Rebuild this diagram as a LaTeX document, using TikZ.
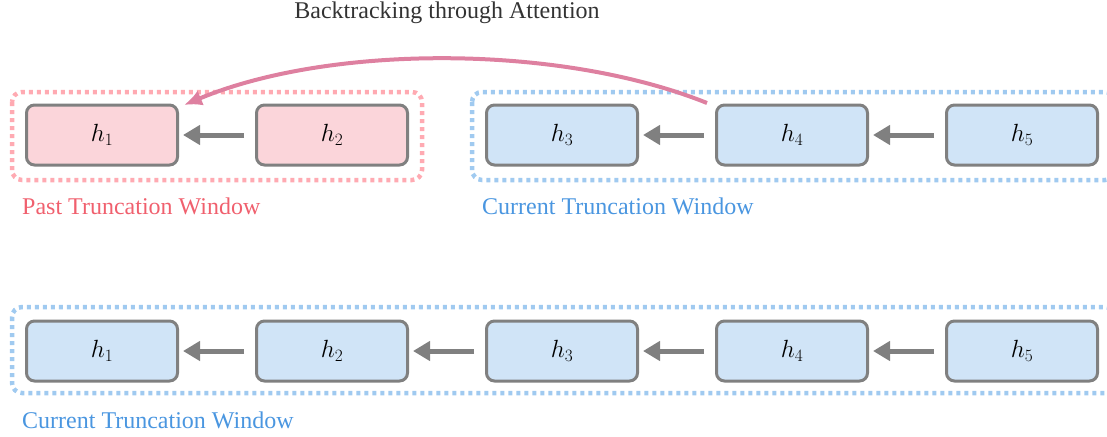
\documentclass[tikz,border=0pt]{standalone}
\usepackage{fontspec}
\setmainfont{Liberation Serif}
\usetikzlibrary{arrows.meta}
\definecolor{boxgray}{RGB}{128,128,128}
\definecolor{pastfill}{RGB}{251,213,218}
\definecolor{pastdot}{RGB}{255,170,178}
\definecolor{pasttext}{RGB}{240,96,110}
\definecolor{curfill}{RGB}{208,228,247}
\definecolor{curdot}{RGB}{160,202,240}
\definecolor{curtext}{RGB}{74,150,224}
\definecolor{curvecol}{RGB}{222,128,160}
\definecolor{titlecol}{RGB}{51,51,51}
\tikzset{
  hbox/.style={draw=boxgray, line width=3pt, rounded corners=8pt, minimum width=151pt, minimum height=60pt, inner sep=0pt, font=\fontsize{24}{28}\selectfont},
  pastbox/.style={hbox, fill=pastfill},
  curbox/.style={hbox, fill=curfill},
  grayarrow/.style={draw=boxgray, line width=5pt, -{Triangle[length=17pt,width=19pt]}, shorten <=11pt, shorten >=4pt},
  dotwin/.style={line width=4.5pt, dash pattern=on 4pt off 4pt, rounded corners=10pt},
  wintext/.style={anchor=base west, inner sep=0pt, font=\fontsize{24}{28}\selectfont},
}
\begin{document}
\begin{tikzpicture}[x=1pt,y=-1pt]
\clip (0,0) rectangle (1107,436);
% windows
\draw[dotwin, draw=pastdot] (12,92) rectangle (422,180);
\draw[dotwin, draw=curdot] (472,92) rectangle (1115,180);
\draw[dotwin, draw=curdot] (12,307) rectangle (1115,393);
% top row
\node[pastbox] (a1) at (102,135) {$h_1$};
\node[pastbox] (a2) at (332,135) {$h_2$};
\node[curbox] (a3) at (562,135) {$h_3$};
\node[curbox] (a4) at (792,135) {$h_4$};
\node[curbox] (a5) at (1022,135) {$h_5$};
\draw[grayarrow] (a2) -- (a1);
\draw[grayarrow] (a4) -- (a3);
\draw[grayarrow] (a5) -- (a4);
% bottom row
\node[curbox] (b1) at (102,351) {$h_1$};
\node[curbox] (b2) at (332,351) {$h_2$};
\node[curbox] (b3) at (562,351) {$h_3$};
\node[curbox] (b4) at (792,351) {$h_4$};
\node[curbox] (b5) at (1022,351) {$h_5$};
\draw[grayarrow] (b2) -- (b1);
\draw[grayarrow] (b3) -- (b2);
\draw[grayarrow] (b4) -- (b3);
\draw[grayarrow] (b5) -- (b4);
% labels
\node[wintext, text=pasttext] (lp) at (22,214) {Past Truncation Window};
\node[wintext, text=curtext] (lc) at (482,214) {Current Truncation Window};
\node[wintext, text=curtext] (lb) at (22,428) {Current Truncation Window};
\node[anchor=base, inner sep=0pt, text=titlecol, font=\fontsize{24}{28}\selectfont] (title) at (447,19) {Backtracking through Attention};
% backtracking curve
\coordinate (cs) at (707,103);
\coordinate (ce) at (184,105);
\draw[curvecol, line width=4pt, -{Latex[length=18pt,width=16pt]}] (cs) .. controls (560,44) and (330,44) .. (ce);
\end{tikzpicture}
\end{document}
